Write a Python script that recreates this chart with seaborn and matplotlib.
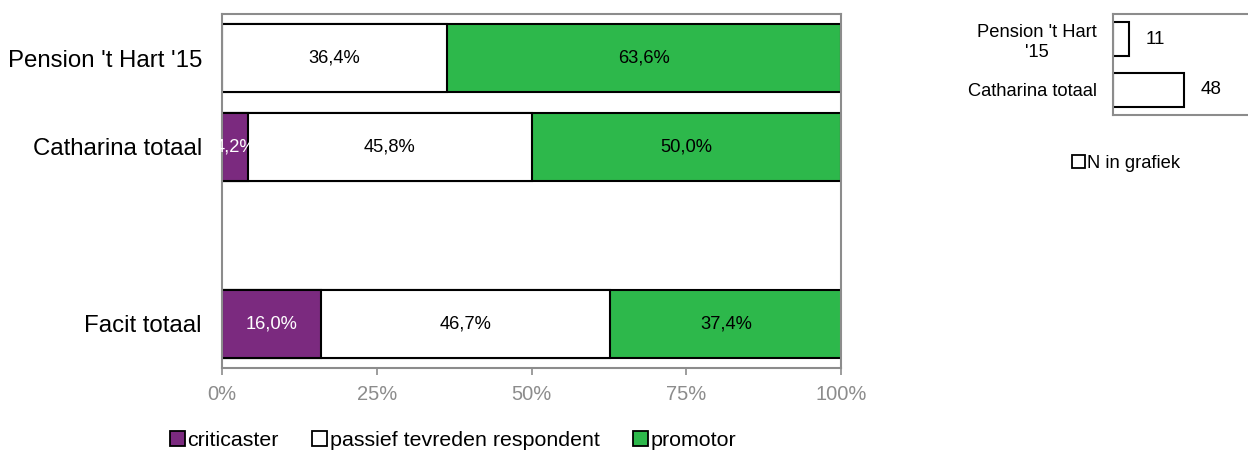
import matplotlib
matplotlib.use("Agg")
import matplotlib.pyplot as plt
import seaborn as sns
import pandas as pd
import numpy as np
from matplotlib.patches import Patch

sns.set_theme(style="white")
plt.rcParams['font.family'] = ['Liberation Sans', 'DejaVu Sans']
plt.rcParams['text.color'] = 'black'
plt.rcParams['axes.labelcolor'] = 'black'
plt.rcParams['ytick.color'] = 'black'

# ---- data ----
categories = ["Pension 't Hart '15", "Catharina totaal", " ", "Facit totaal"]
data_categories = ["Pension 't Hart '15", "Catharina totaal", "Facit totaal"]
criticaster = [0.0, 4.2, 16.0]
passief = [36.4, 45.8, 46.7]
promotor = [63.6, 50.0, 37.4]
series_names = ["criticaster", "passief tevreden respondent", "promotor"]
colors = ["#7B2A7F", "#FFFFFF", "#2DB84B"]
x_ticks = [0, 25, 50, 75, 100]
x_tick_labels = ["0%", "25%", "50%", "75%", "100%"]

n_categories = ["Pension 't Hart\n'15", "Catharina totaal"]
n_values = [11, 48]
n_legend = "N in grafiek"

fig = plt.figure(figsize=(12.48, 4.5), dpi=100)
ax = fig.add_axes([222/1248, 1-368/450, (841-222)/1248, (368-14)/450])

df = pd.DataFrame({
    "cat": data_categories,
    "crit": criticaster,
    "pas": passief,
    "pro": promotor,
})
df["c1"] = df["crit"]
df["c2"] = df["crit"] + df["pas"]
df["c3"] = df["c2"] + df["pro"]

gray = "#8C8C8C"
for col, color in [("c3", colors[2]), ("c2", colors[1]), ("c1", colors[0])]:
    sub = df[df[col] > 0]
    sns.barplot(data=sub, x=col, y="cat", order=categories, orient="h",
                color=color, saturation=1, width=0.77, edgecolor="black",
                linewidth=1.5, ax=ax, errorbar=None)

# labels
ypos = {c: i for i, c in enumerate(categories)}
lab_fs = 13.2
for _, r in df.iterrows():
    y = ypos[r["cat"]]
    if r["crit"] > 0:
        ax.text(r["crit"] / 2, y, f"{r['crit']:.1f}%".replace(".", ","),
                ha="center", va="center", color="white", fontsize=lab_fs)
    ax.text(r["crit"] + r["pas"] / 2, y, f"{r['pas']:.1f}%".replace(".", ","),
            ha="center", va="center", color="black", fontsize=lab_fs)
    ax.text(r["c2"] + r["pro"] / 2, y, f"{r['pro']:.1f}%".replace(".", ","),
            ha="center", va="center", color="black", fontsize=lab_fs)

ax.set_xlim(0, 100)
ax.set_ylim(3.5, -0.5)
ax.set_xticks(x_ticks)
ax.set_xticklabels(x_tick_labels, color=gray, fontsize=14.5)
ax.set_ylabel("")
ax.set_xlabel("")
ax.tick_params(axis="y", length=0, labelsize=17.3, pad=14.4, labelcolor="black")
ax.tick_params(axis="x", length=5, color=gray, width=1.2, direction="out", pad=7, bottom=True)
for s in ax.spines.values():
    s.set_color(gray)
    s.set_linewidth(1.5)
ax.grid(False)

handles = [Patch(facecolor=c, edgecolor="black", linewidth=1.3) for c in colors]
fig.legend(handles, series_names, loc="center left", bbox_to_anchor=(170/1248, 1-440/450),
           ncol=3, frameon=False, fontsize=15.4, handlelength=0.7, handleheight=0.7,
           handletextpad=0.12, columnspacing=1.55, borderpad=0, borderaxespad=0)

# ---- small N chart ----
ax2 = fig.add_axes([1113/1248, 1-115/450, (1250-1113)/1248, (115-14)/450])
ndf = pd.DataFrame({"cat": n_categories, "n": n_values})
sns.barplot(data=ndf, x="n", y="cat", order=n_categories, orient="h", color="white",
            saturation=1, width=0.67, edgecolor="black", linewidth=1.5, ax=ax2,
            errorbar=None)
ax2.set_xlim(0, 93)
ax2.set_ylim(1.5, -0.5)
ax2.set_xticks([])
ax2.set_xlabel("")
ax2.set_ylabel("")
for lab in ax2.get_yticklabels():
    lab.set_multialignment("center")
ax2.tick_params(axis="y", length=0, labelsize=13.2, pad=11.5, labelcolor="black")
for i, v in enumerate(n_values):
    ax2.annotate(str(v), (v, i), xytext=(12, 0), textcoords="offset points",
                 ha="left", va="center", fontsize=13.6, color="black")
for s in ax2.spines.values():
    s.set_color(gray)
    s.set_linewidth(1.5)
ax2.spines["right"].set_visible(False)

fig.legend([Patch(facecolor="white", edgecolor="black", linewidth=1.3)], [n_legend],
           loc="center left", bbox_to_anchor=(1072/1248, 1-163/450), frameon=False,
           fontsize=13.2, handlelength=0.7, handleheight=0.7, handletextpad=0.12,
           borderpad=0, borderaxespad=0)

fig.savefig("out.png", dpi=100)
